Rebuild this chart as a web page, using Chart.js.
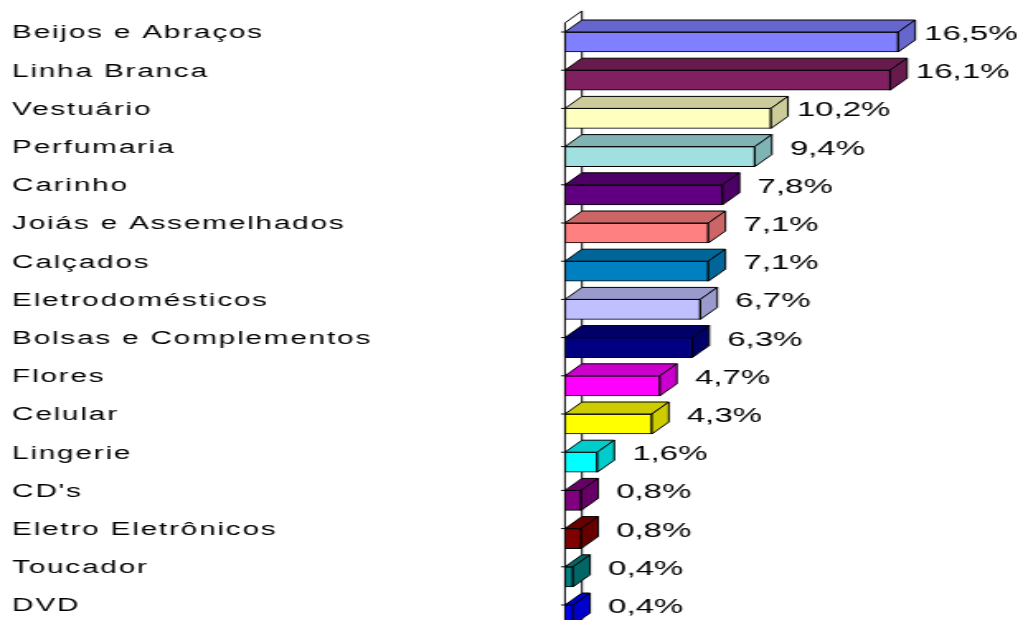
<!DOCTYPE html>
<html lang="pt">
<head>
  <meta charset="UTF-8">
  <title>Presentes</title>
  <script src="https://cdn.jsdelivr.net/npm/chart.js"></script>
  <style>
    html, body { margin: 0; padding: 0; background: #fff; overflow: hidden; }
    /* the chart is drawn narrow and stretched sideways */
    #wrap { transform: scaleX(1.65); transform-origin: 0 0; width: 618px; }
    canvas { display: block; }
  </style>
</head>
<body>
  <div id="wrap"><canvas id="myChart" width="618" height="660"></canvas></div>

  <script>
    const categories = [
      'Beijos e Abraços', 'Linha Branca', 'Vestuário', 'Perfumaria', 'Carinho',
      'Joiás e Assemelhados', 'Calçados', 'Eletrodomésticos', 'Bolsas e Complementos',
      'Flores', 'Celular', 'Lingerie', "CD's", 'Eletro Eletrônicos', 'Toucador', 'DVD'
    ];
    const shares = [16.5, 16.1, 10.2, 9.4, 7.8, 7.1, 7.1, 6.7, 6.3, 4.7, 4.3, 1.6, 0.8, 0.8, 0.4, 0.4];

    const frontColors = [
      '#8080FF', '#802060', '#FFFFC0', '#A0E0E0', '#600080', '#FF8080', '#0080C0', '#C0C0FF',
      '#000080', '#FF00FF', '#FFFF00', '#00FFFF', '#800080', '#800000', '#008080', '#0000FF'
    ];

    // top and side faces are a darker shade of the front
    function shade(hex) {
      const n = parseInt(hex.slice(1), 16);
      const r = Math.round(((n >> 16) & 255) * 0.8);
      const g = Math.round(((n >> 8) & 255) * 0.8);
      const b = Math.round((n & 255) * 0.8);
      return `rgb(${r},${g},${b})`;
    }

    const DX = 10.3, DY = 12;   // depth of the 3d boxes
    const FONT = "'Liberation Sans', Arial, sans-serif";

    const fmt = v => v.toFixed(1).replace('.', ',') + '%';

    const spacing = {
      id: 'spacing',
      beforeDraw(chart) { chart.ctx.letterSpacing = '1.1px'; }
    };

    // thin back wall along the category axis
    const wall = {
      id: 'wall',
      beforeDatasetsDraw(chart) {
        const { ctx, chartArea: a } = chart;
        const ys = chart.scales.y;
        const bottom = a.bottom + 40;
        ctx.save();
        ctx.letterSpacing = '0px';
        ctx.fillStyle = '#fff';
        ctx.strokeStyle = '#000';
        ctx.lineWidth = 1;
        ctx.beginPath();
        ctx.moveTo(a.left, bottom);
        ctx.lineTo(a.left, a.top);
        ctx.lineTo(a.left + DX, a.top - DY);
        ctx.lineTo(a.left + DX, bottom);
        ctx.closePath();
        ctx.fill();
        ctx.stroke();
        ctx.beginPath();
        categories.forEach((c, i) => {
          const y = ys.getPixelForValue(i) - 10;
          ctx.moveTo(a.left - 2.4, y);
          ctx.lineTo(a.left, y);
        });
        ctx.stroke();
        ctx.restore();
      }
    };

    // top and side faces, then the value labels
    const boxes = {
      id: 'boxes',
      afterDatasetsDraw(chart) {
        const { ctx } = chart;
        const meta = chart.getDatasetMeta(0);
        ctx.save();
        ctx.letterSpacing = '0px';
        ctx.strokeStyle = '#000';
        ctx.lineWidth = 1;
        meta.data.forEach((el, i) => {
          const { x, y, base, height } = el.getProps(['x', 'y', 'base', 'height'], true);
          const top = y - height / 2;
          ctx.fillStyle = shade(frontColors[i]);
          ctx.beginPath();
          ctx.moveTo(base, top);
          ctx.lineTo(x, top);
          ctx.lineTo(x + DX, top - DY);
          ctx.lineTo(base + DX, top - DY);
          ctx.closePath();
          ctx.fill();
          ctx.stroke();
          ctx.beginPath();
          ctx.moveTo(x, top);
          ctx.lineTo(x + DX, top - DY);
          ctx.lineTo(x + DX, top - DY + height);
          ctx.lineTo(x, top + height);
          ctx.closePath();
          ctx.fill();
          ctx.stroke();

          ctx.fillStyle = '#000';
          ctx.font = `20px ${FONT}`;
          ctx.textAlign = 'center';
          ctx.textBaseline = 'middle';
          ctx.fillText(fmt(shares[i]), x + 44, y - 7.5);
        });
        ctx.restore();
      }
    };

    const ctx = document.getElementById('myChart').getContext('2d');
    new Chart(ctx, {
      type: 'bar',
      data: {
        labels: categories,
        datasets: [{
          data: shares,
          backgroundColor: frontColors,
          borderColor: '#000',
          borderWidth: 1,
          borderSkipped: false,
          barThickness: 20
        }]
      },
      options: {
        indexAxis: 'y',
        responsive: false,
        animation: false,
        devicePixelRatio: 1,
        layout: { padding: { left: 7.3, right: 6.3, top: 22.9, bottom: 25.9 } },
        plugins: {
          legend: { display: false },
          tooltip: { enabled: false }
        },
        scales: {
          x: { display: false, min: 0, max: 22 },
          y: {
            grid: { display: false },
            border: { display: false },
            afterFit(scale) { scale.width = 335.1; },
            ticks: {
              autoSkip: false,
              crossAlign: 'far',
              padding: 0,
              labelOffset: -8.5,
              color: '#000',
              font: { family: FONT, size: 18 }
            }
          }
        }
      },
      plugins: [spacing, wall, boxes]
    });
  </script>
</body>
</html>
